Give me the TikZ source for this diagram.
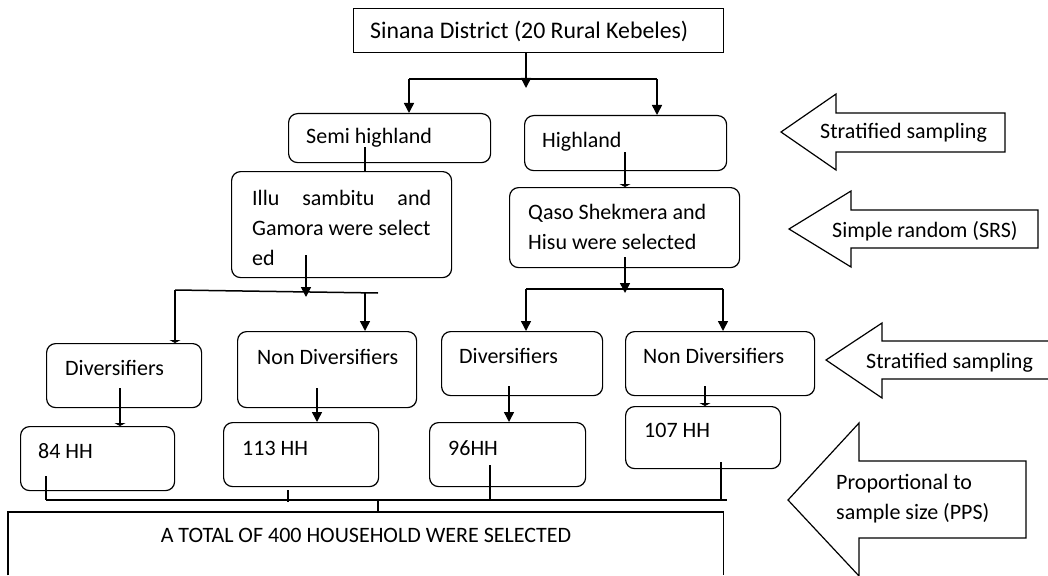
\documentclass[tikz,border=0pt]{standalone}
\usepackage{fontspec}
\setmainfont{Carlito}
\usetikzlibrary{arrows.meta}
\begin{document}
\begin{tikzpicture}[x=1pt, y=-1pt, line join=miter,
  every node/.style={font=\fontsize{22}{30}\selectfont},
  box node/.style={draw, line width=1.2pt, anchor=north west, inner sep=0pt},
  round node/.style={box node, rounded corners=9pt},
  txt/.style={anchor=base west, inner sep=0pt, align=left},
  link/.style={line width=1.5pt},
  bar/.style={line width=1.2pt},
  arrow/.style={link, -{Triangle[length=10pt, width=10pt]}},
  stop/.style={link, -{Triangle[length=3pt, width=11pt]}},
  side arrow/.style={line width=1.2pt}]
\useasboundingbox (0,0) rectangle (1048,575);
% boxes
\node[box node, minimum width=370pt, minimum height=44pt] (sinana) at (353,8) {};
\node[round node, minimum width=202pt, minimum height=49pt] (semi) at (288,113) {};
\node[round node, minimum width=202pt, minimum height=55pt] (high) at (524,115) {};
\node[round node, minimum width=220pt, minimum height=106pt] (illu) at (231,171) {};
\node[round node, minimum width=230pt, minimum height=80pt] (qaso) at (509,187) {};
\node[round node, minimum width=155pt, minimum height=64pt] (div1) at (46,343) {};
\node[round node, minimum width=179pt, minimum height=76pt] (nondiv1) at (237,331) {};
\node[round node, minimum width=161pt, minimum height=64pt] (div2) at (441,331) {};
\node[round node, minimum width=189pt, minimum height=64pt] (nondiv2) at (625,331) {};
\node[round node, minimum width=154pt, minimum height=64pt] (hh84) at (20,426) {};
\node[round node, minimum width=155pt, minimum height=64pt] (hh113) at (223,422) {};
\node[round node, minimum width=156pt, minimum height=64pt] (hh96) at (429,422) {};
\node[round node, minimum width=155pt, minimum height=62pt] (hh107) at (625,406) {};
\node[anchor=north west, inner sep=0pt, minimum width=715pt, minimum height=63pt] (total) at (8,512) {};
\draw[bar] (total.south west) -- (total.north west) -- (total.north east) -- (total.south east);
% texts (multi-line ones sit on their last baseline)
\node[txt, font=\fontsize{23.8}{30}\selectfont] (sinana-t) at (370,39) {Sinana District (20 Rural Kebeles)};
\node[txt] (semi-t) at (306,143) {Semi highland};
\node[txt] (high-t) at (542,147) {Highland};
\node[txt] (illu-t) at (252,265) {\makebox[179pt][s]{Illu sambitu and}\\Gamora were select\\ed};
\node[txt] (qaso-t) at (528,249) {Qaso Shekmera and\\Hisu were selected};
\node[txt] (div1-t) at (65,375) {Diversifiers};
\node[txt] (nondiv1-t) at (257,364) {Non Diversifiers};
\node[txt] (div2-t) at (459,363) {Diversifiers};
\node[txt] (nondiv2-t) at (643,363) {Non Diversifiers};
\node[txt] (hh84-t) at (38,458) {84 HH};
\node[txt] (hh113-t) at (242,455) {113 HH};
\node[txt] (hh96-t) at (448,455) {96HH};
\node[txt] (hh107-t) at (644,437) {107 HH};
\node[anchor=base, inner sep=0pt] (total-t) at (366,542) {A TOTAL OF 400 HOUSEHOLD WERE SELECTED};
% connectors
\coordinate (j0) at (526,88);
\coordinate (b1l) at (409,79);
\coordinate (b1r) at (657,79);
\draw[arrow] (sinana.south -| j0) -- (j0);
\draw[link] (b1l) -- (b1r);
\draw[arrow] (b1l) -- (b1l |- semi.north);
\draw[arrow] (b1r) -- (b1r |- high.north);
\coordinate (s0) at (365,147);
\draw[link] (s0) -- (s0 |- illu.north);
\coordinate (h0) at (625,152);
\draw[stop] (h0) -- (h0 |- qaso.north);
\coordinate (i0) at (306,255);
\coordinate (i1) at (306,297);
\coordinate (b2l) at (175,290);
\coordinate (b2r) at (378,293);
\coordinate (b2m) at (365,293);
\draw[arrow] (i0) -- (i1);
\draw[link] (b2l) -- (b2r);
\draw[stop] (b2l) -- (b2l |- div1.north);
\draw[arrow] (b2m) -- (b2m |- nondiv1.north);
\coordinate (q0) at (625,257);
\coordinate (q1) at (625,293);
\coordinate (b3l) at (526,289);
\coordinate (b3r) at (723,289);
\draw[arrow] (q0) -- (q1);
\draw[link] (b3l) -- (b3r);
\draw[arrow] (b3l) -- (b3l |- div2.north);
\draw[arrow] (b3r) -- (b3r |- nondiv2.north);
\coordinate (d1) at (120,388);
\coordinate (n1) at (317,388);
\coordinate (d2) at (509,386);
\coordinate (n2) at (705,386);
\draw[stop] (d1) -- (d1 |- hh84.north);
\draw[arrow] (n1) -- (n1 |- hh113.north);
\draw[arrow] (d2) -- (d2 |- hh96.north);
\draw[stop] (n2) -- (n2 |- hh107.north);
\coordinate (b4l) at (46,500);
\coordinate (b4r) at (727,500);
\coordinate (b4m) at (378,500);
\coordinate (e1) at (46,476);
\coordinate (e2) at (288,490);
\coordinate (e3) at (490,465);
\coordinate (e4) at (721,462);
\draw[bar] (b4l) -- (b4r);
\draw[bar] (e1) -- (e1 |- b4l);
\draw[bar] (e2) -- (288,502);
\draw[bar] (e3) -- (e3 |- b4l);
\draw[bar] (e4) -- (e4 |- b4l);
\draw[bar] (b4m) -- (b4m |- total.north);
% sampling arrows
\draw[side arrow] (1005,113) -- (836,113) -- (836,94) -- (781,132) -- (836,170) -- (836,152) -- (1005,152) -- cycle;
\draw[side arrow] (1038,210) -- (851,210) -- (851,191) -- (789,229) -- (851,267) -- (851,248) -- (1038,248) -- cycle;
\draw[side arrow] (1048,341) -- (882,341) -- (882,323) -- (826,360) -- (882,398) -- (882,379) -- (1048,379);
\draw[side arrow] (1026,461) -- (859,461) -- (859,423) -- (788,500) -- (859,576) -- (859,538) -- (1026,538) -- cycle;
\node[txt] (strat1) at (820,139) {Stratified sampling};
\node[txt] (srs) at (832,237) {Simple random (SRS)};
\node[txt] (strat2) at (866,368) {Stratified sampling};
\node[txt] (pps) at (836,519) {Proportional to\\sample size (PPS)};
\end{tikzpicture}
\end{document}
